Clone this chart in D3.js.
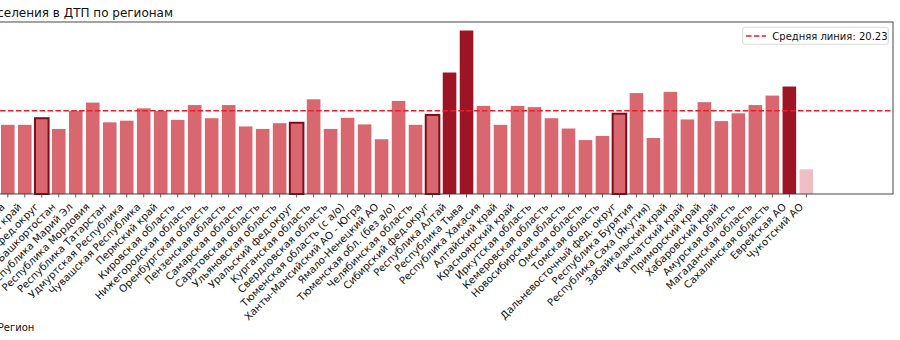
<!DOCTYPE html>
<html><head><meta charset="utf-8">
<script src="https://cdn.jsdelivr.net/npm/d3@7"></script>
<style>body{margin:0;background:#fff;overflow:hidden}svg{display:block}text{font-family:"DejaVu Sans",sans-serif}</style>
</head><body><svg id="c" width="900" height="340"></svg>
<script>
const regions = ["Чеченская Республика","Ставропольский край","Приволжский фед.округ","Республика Башкортостан","Республика Марий Эл","Республика Мордовия","Республика Татарстан","Удмуртская Республика","Чувашская Республика","Пермский край","Кировская область","Нижегородская область","Оренбургская область","Пензенская область","Самарская область","Саратовская область","Ульяновская область","Уральский фед.округ","Курганская область","Свердловская область","Тюменская область (с а/о)","Ханты-Мансийский АО - Югра","Ямало-Ненецкий АО","Тюменская обл. (без а/о)","Челябинская область","Сибирский фед.округ","Республика Алтай","Республика Тыва","Республика Хакасия","Алтайский край","Красноярский край","Иркутская область","Кемеровская область","Новосибирская область","Омская область","Томская область","Дальневосточный фед. округ","Республика Бурятия","Республика Саха (Якутия)","Забайкальский край","Камчатский край","Приморский край","Хабаровский край","Амурская область","Магаданская область","Сахалинская область","Еврейская АО","Чукотский АО"];
const values = [16.8,16.8,18.4,15.8,20.2,22.2,17.4,17.8,20.8,20.15,18.0,21.6,18.4,21.6,16.4,15.8,17.2,17.3,23.0,15.8,18.5,16.9,13.3,22.6,16.8,19.2,29.5,39.7,21.4,16.8,21.4,21.1,18.4,15.9,13.1,14.1,19.5,24.5,13.6,24.8,18.1,22.3,17.7,19.6,21.6,23.9,26.1,6.0];
const districts = ["Приволжский фед.округ","Уральский фед.округ","Сибирский фед.округ","Дальневосточный фед. округ"];
const highlighted = ["Республика Алтай","Республика Тыва","Еврейская АО"];
const lowest = ["Чукотский АО"];
const meanValue = 20.23;
const titleText = "Смертность на 100 тыс. населения в ДТП по регионам";
const xLabel = "Регион";
const legendText = "Средняя линия: 20.23";

const svg = d3.select("#c");
const axL = -861, axR = 893, axT = 22, axB = 194;
const step = 16.99;
const x = d3.scaleBand().domain(regions).range([7.8 - step/2, 7.8 - step/2 + step*regions.length]).paddingInner(0.2).paddingOuter(0.1);
const y = d3.scaleLinear().domain([0, 41.77]).range([axB, axT]);

// bars
svg.append("g").selectAll("rect").data(regions).join("rect")
  .attr("x", d => x(d)).attr("width", x.bandwidth())
  .attr("y", (d,i) => y(values[i])).attr("height", (d,i) => axB - y(values[i]))
  .attr("fill", d => highlighted.includes(d) ? "#9d1424" : lowest.includes(d) ? "#f0bfc4" : "#d9676f")
  .attr("stroke", d => districts.includes(d) ? "#800c1a" : "none")
  .attr("stroke-width", d => districts.includes(d) ? 2 : 0);

// mean line
svg.append("line").attr("x1", axL).attr("x2", axR).attr("y1", y(meanValue)).attr("y2", y(meanValue))
  .attr("stroke", "#f01c28").attr("stroke-width", 1.5).attr("stroke-dasharray", "5.5,2.4");

// frame
svg.append("rect").attr("x", axL).attr("y", axT).attr("width", axR-axL).attr("height", axB-axT)
  .attr("fill", "none").attr("stroke", "#333").attr("stroke-width", 0.9);

// x axis
const gx = svg.append("g").attr("transform", `translate(0,${axB})`).call(d3.axisBottom(x).tickSize(3.5).tickPadding(0));
gx.select(".domain").remove();
gx.selectAll(".tick line").attr("stroke", "#333").attr("stroke-width", 0.8);
gx.selectAll(".tick text").attr("font-size", 10.2).attr("fill", "#111")
  .attr("text-anchor", "end").attr("dy", 0).attr("y", 0)
  .attr("transform", "translate(-2.5,13.5) rotate(-45)");

// title
svg.append("text").attr("x", 173).attr("y", 16.5).attr("text-anchor", "end").attr("font-size", 12).attr("fill", "#111").text(titleText);
// x label
svg.append("text").attr("x", 16).attr("y", 331).attr("text-anchor", "middle").attr("font-size", 10).attr("fill", "#111").text(xLabel);

// legend
const lg = svg.append("g");
lg.append("rect").attr("x", 742.7).attr("y", 27.3).attr("width", 145.6).attr("height", 17).attr("rx", 2)
  .attr("fill", "#fff").attr("fill-opacity", 0.8).attr("stroke", "#d0d0d0").attr("stroke-width", 0.8);
lg.append("line").attr("x1", 746).attr("x2", 766).attr("y1", 36).attr("y2", 36)
  .attr("stroke", "#f01c28").attr("stroke-width", 1.5).attr("stroke-dasharray", "5.5,2.4");
lg.append("text").attr("x", 772.3).attr("y", 39.6).attr("font-size", 10).attr("fill", "#111").text(legendText);
</script></body></html>
